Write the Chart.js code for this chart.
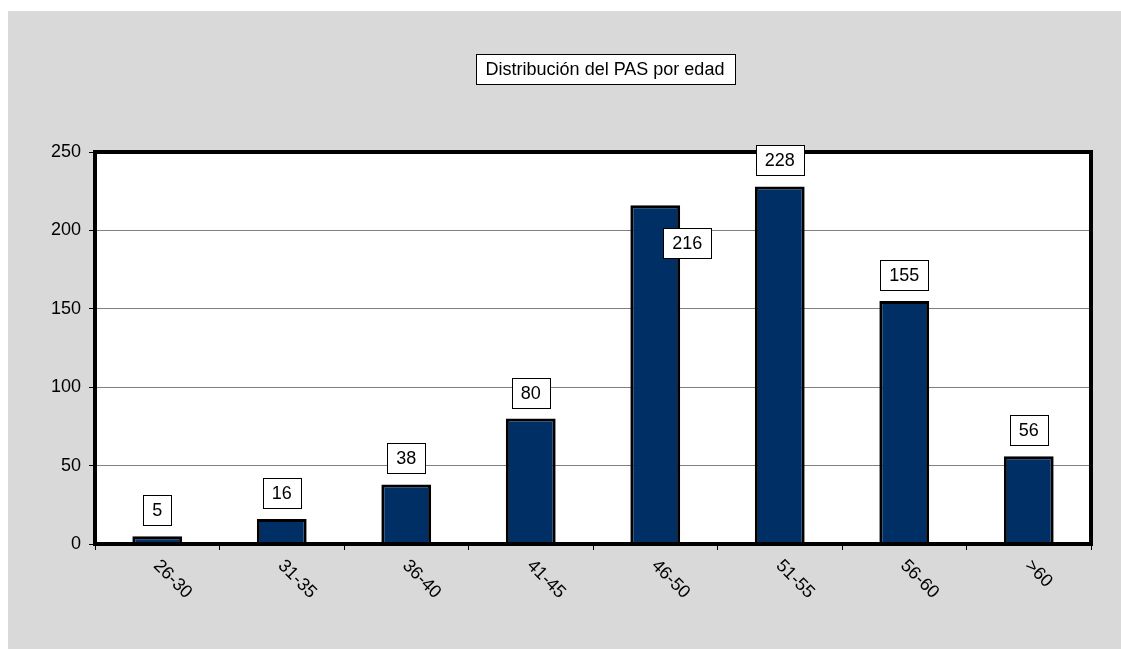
<!DOCTYPE html>
<html>
<head>
<meta charset="utf-8">
<script src="https://cdn.jsdelivr.net/npm/chart.js@4.4.0/dist/chart.umd.min.js"></script>
<style>
  html, body { margin: 0; padding: 0; background: #fff; overflow: hidden; }
  #wrap { position: absolute; left: 8px; top: 11px; width: 1113px; height: 638px; background: #d9d9d9; }
</style>
</head>
<body>
<div id="wrap"><canvas id="pasChart" width="1113" height="638"></canvas></div>
<script>
const titleText = 'Distribución del PAS por edad';
const ageGroups = ['26-30', '31-35', '36-40', '41-45', '46-50', '51-55', '56-60', '>60'];
const counts = [5, 16, 38, 80, 216, 228, 155, 56];
const yTicks = [0, 50, 100, 150, 200, 250];

const FONT = '"Liberation Sans", Arial, sans-serif';

function boxedText(ctx, text, cx, cy, padX, h) {
  ctx.font = '18px ' + FONT;
  const w = Math.round(ctx.measureText(text).width + padX * 2);
  const x = Math.round(cx - w / 2) + 0.5, y = Math.round(cy - h / 2) + 0.5;
  ctx.fillStyle = '#fff';
  ctx.fillRect(x, y, w, h);
  ctx.strokeStyle = '#000';
  ctx.lineWidth = 1;
  ctx.strokeRect(x, y, w, h);
  ctx.fillStyle = '#000';
  ctx.textAlign = 'center';
  ctx.textBaseline = 'middle';
  ctx.fillText(text, cx, cy + 1);
}

const decorations = {
  id: 'decorations',
  beforeDraw(chart) {
    const { ctx, chartArea: a } = chart;
    ctx.save();
    ctx.fillStyle = '#fff';
    ctx.fillRect(a.left, a.top, a.right - a.left, a.bottom - a.top);
    ctx.restore();
  },
  afterDatasetsDraw(chart) {
    const { ctx, chartArea: a, scales } = chart;
    ctx.save();
    // frame around plot area
    ctx.strokeStyle = '#000';
    ctx.lineWidth = 4;
    ctx.strokeRect(a.left, a.top, a.right - a.left, a.bottom - a.top);

    // value labels
    const meta = chart.getDatasetMeta(0);
    meta.data.forEach((bar, i) => {
      let cx = bar.x, cy = bar.y - 26;
      if (i === 4) { cx = bar.x + 32; cy = bar.y + 38; } // this label sits beside its bar
      boxedText(ctx, String(counts[i]), cx, cy, 9, 30);
    });

    // rotated category labels
    ctx.font = '18px ' + FONT;
    ctx.fillStyle = '#000';
    ctx.textAlign = 'left';
    ctx.textBaseline = 'middle';
    ageGroups.forEach((lab, i) => {
      const x = scales.x.getPixelForValue(i);
      ctx.save();
      ctx.translate(x - 1, a.bottom + 19);
      ctx.rotate(Math.PI / 4);
      ctx.fillText(lab, 0, 0);
      ctx.restore();
    });

    // title
    boxedText(ctx, titleText, 597, 58, 10, 30);
    ctx.restore();
  }
};

new Chart(document.getElementById('pasChart'), {
  type: 'bar',
  data: {
    labels: ageGroups,
    datasets: [{
      data: counts,
      backgroundColor: '#002f65',
      borderColor: '#000',
      borderWidth: 3,
      borderSkipped: 'bottom',
      barPercentage: 0.8,
      categoryPercentage: 0.5
    }]
  },
  options: {
    responsive: false,
    animation: false,
    layout: { padding: { left: 0, top: 141, right: 30, bottom: 0 } },
    plugins: { legend: { display: false }, tooltip: { enabled: false } },
    scales: {
      x: {
        ticks: { display: false },
        grid: { drawOnChartArea: false, color: '#000', tickLength: 6, offset: true },
        border: { display: false },
        afterFit: s => { s.height = 105; }
      },
      y: {
        min: 0,
        max: 250,
        afterBuildTicks: s => { s.ticks = yTicks.map(v => ({ value: v })); },
        ticks: { color: '#000', font: { family: FONT, size: 18 }, padding: 8 },
        grid: { color: '#808080', tickColor: '#000', tickLength: 6, lineWidth: 1 },
        border: { display: false },
        afterFit: s => { s.width = 87; }
      }
    }
  },
  plugins: [decorations]
});
</script>
</body>
</html>
